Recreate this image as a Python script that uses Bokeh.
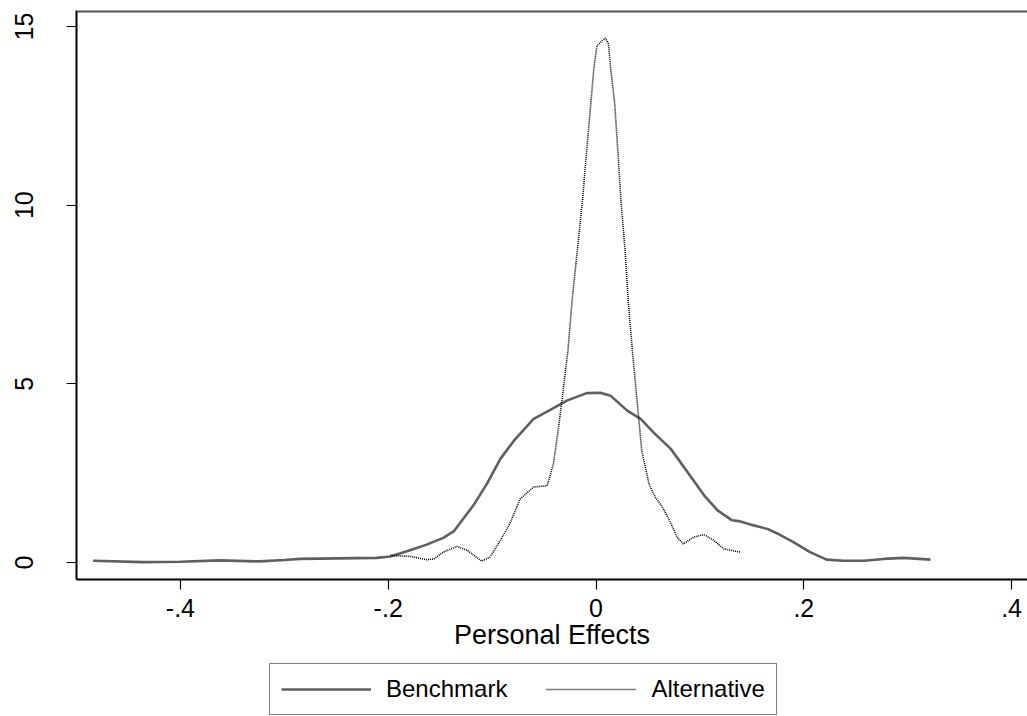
from bokeh.plotting import figure
from bokeh.models import FixedTicker, Legend, LegendItem, Span
from bokeh.layouts import column
from bokeh.embed import file_html
from bokeh.resources import INLINE

# Benchmark density
bench_x = [-0.484, -0.436, -0.400, -0.362, -0.324, -0.300, -0.285, -0.211, -0.198, -0.179,
           -0.163, -0.147, -0.137, -0.118, -0.105, -0.092, -0.079, -0.060, -0.044, -0.028,
           -0.009, 0.004, 0.014, 0.030, 0.043, 0.055, 0.072, 0.088, 0.104, 0.117,
           0.131, 0.139, 0.149, 0.165, 0.174, 0.190, 0.206, 0.222, 0.238, 0.258,
           0.277, 0.296, 0.322]
bench_y = [0.05, 0.01, 0.02, 0.06, 0.03, 0.07, 0.10, 0.13, 0.17, 0.34,
           0.50, 0.69, 0.87, 1.60, 2.20, 2.90, 3.41, 4.02, 4.27, 4.53,
           4.74, 4.75, 4.67, 4.25, 4.02, 3.65, 3.18, 2.53, 1.88, 1.46,
           1.18, 1.15, 1.06, 0.94, 0.82, 0.57, 0.29, 0.08, 0.05, 0.05,
           0.10, 0.13, 0.08]

# Alternative density
alt_x = [-0.198, -0.179, -0.163, -0.156, -0.147, -0.134, -0.124, -0.110, -0.102, -0.092,
         -0.083, -0.073, -0.060, -0.047, -0.041, -0.036, -0.032, -0.027, -0.023, -0.018,
         -0.013, -0.009, -0.005, -0.002, 0.001, 0.009, 0.012, 0.014, 0.018, 0.021,
         0.024, 0.028, 0.031, 0.035, 0.038, 0.041, 0.044, 0.051, 0.057, 0.064,
         0.072, 0.078, 0.084, 0.094, 0.104, 0.113, 0.123, 0.139]
alt_y = [0.20, 0.17, 0.08, 0.10, 0.29, 0.45, 0.34, 0.04, 0.15, 0.62,
         1.08, 1.78, 2.11, 2.15, 2.76, 3.79, 4.72, 5.93, 7.33, 8.73,
         10.13, 11.53, 12.84, 13.86, 14.47, 14.68, 14.52, 13.86, 12.84, 11.53,
         10.13, 8.73, 7.33, 5.93, 5.00, 4.07, 3.13, 2.20, 1.83, 1.55,
         1.10, 0.71, 0.52, 0.71, 0.78, 0.63, 0.38, 0.29]

x_ticks = [-0.4, -0.2, 0.0, 0.2, 0.4]
x_tick_labels = ["-.4", "-.2", "0", ".2", ".4"]
y_ticks = [0, 5, 10, 15]
y_tick_labels = ["0", "5", "10", "15"]
x_title = "Personal Effects"
series_names = ["Benchmark", "Alternative"]

FONT = "Liberation Sans"
BENCH_COLOR = "#5f5f5f"

p = figure(frame_width=951, frame_height=569, x_range=(-0.5, 0.4153), y_range=(-0.476, 15.45),
           output_backend="svg", toolbar_location=None,
           min_border_left=76, min_border_top=10, min_border_right=0, min_border_bottom=84)
p.outline_line_color = None
p.grid.visible = False
p.background_fill_color = "white"
p.border_fill_color = "white"

r1 = p.line(bench_x, bench_y, line_color=BENCH_COLOR, line_width=2.6)
r2 = p.line(alt_x, alt_y, line_color="black", line_width=1.6, line_dash="1 1")

top = Span(location=15.45, dimension="width", line_color="#555555", line_width=4)
p.add_layout(top)

xa = p.xaxis[0]
xa.ticker = FixedTicker(ticks=x_ticks)
xa.major_label_overrides = {t: l for t, l in zip(x_ticks, x_tick_labels)}
xa.axis_label = x_title
xa.axis_label_text_font = FONT
xa.axis_label_text_font_style = "normal"
xa.axis_label_text_font_size = "27px"
xa.axis_label_text_color = "black"
xa.axis_label_standoff = 0
xa.major_label_text_font = FONT
xa.major_label_text_font_size = "25px"
xa.major_label_text_color = "black"
xa.major_label_standoff = 9
xa.major_tick_out = 10
xa.major_tick_in = 0
xa.minor_tick_out = 0
xa.minor_tick_in = 0
xa.axis_line_width = 2
xa.axis_line_color = "black"
xa.major_tick_line_color = "black"
xa.major_tick_line_width = 1.2

ya = p.yaxis[0]
ya.ticker = FixedTicker(ticks=y_ticks)
ya.major_label_overrides = {t: l for t, l in zip(y_ticks, y_tick_labels)}
ya.major_label_orientation = "vertical"
ya.major_label_text_font = FONT
ya.major_label_text_font_size = "25px"
ya.major_label_text_color = "black"
ya.major_label_standoff = 33
ya.major_tick_out = 10
ya.major_tick_in = 0
ya.minor_tick_out = 0
ya.minor_tick_in = 0
ya.axis_line_width = 2
ya.axis_line_color = "black"
ya.major_tick_line_color = "black"
ya.major_tick_line_width = 1.2

# Legend strip below the plot (proxy lines use the same data, kept outside the view)
q = figure(width=1027, height=53, x_range=(-0.5, 0.4153), y_range=(100, 101),
           output_backend="svg", toolbar_location=None,
           x_axis_type=None, y_axis_type=None,
           min_border_left=0, min_border_right=0, min_border_top=0, min_border_bottom=0)
q.outline_line_color = None
q.grid.visible = False
q.border_fill_color = "white"
q.background_fill_color = "white"
g1 = q.line(bench_x, bench_y, line_color=BENCH_COLOR, line_width=2.6)
g2 = q.line(alt_x, alt_y, line_color="black", line_width=1.6, line_dash="1 1")

legend = Legend(items=[LegendItem(label=series_names[0], renderers=[g1]),
                       LegendItem(label=series_names[1], renderers=[g2])],
                orientation="horizontal", location=(193, 1), margin=0,
                padding=11, spacing=39, label_standoff=15, glyph_width=90, glyph_height=28,
                label_text_font=FONT, label_text_font_size="24px", label_text_color="black",
                border_line_color="black", border_line_width=1.3,
                background_fill_color="white", background_fill_alpha=1.0)
q.add_layout(legend, "center")

layout = column(p, q, spacing=0)
open("out.html", "w").write(file_html(layout, INLINE))
